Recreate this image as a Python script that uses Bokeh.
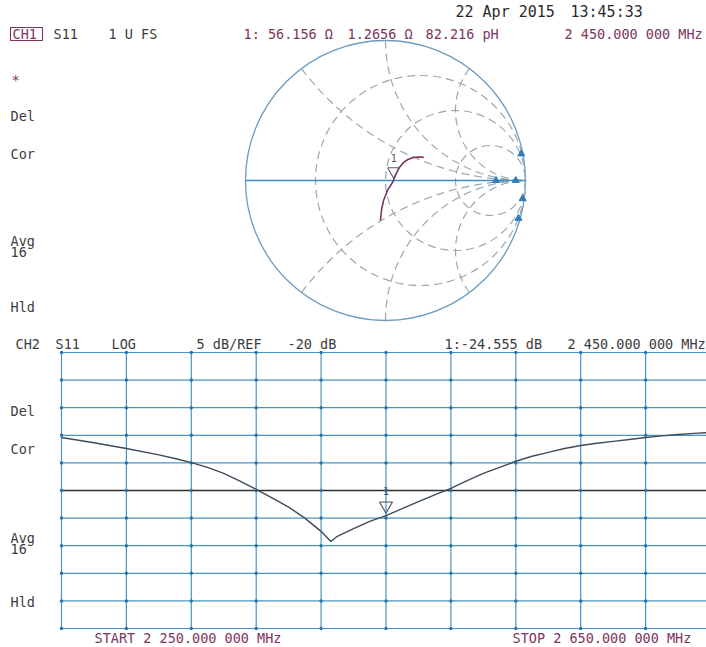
import numpy as np
from bokeh.plotting import figure
from bokeh.models import Range1d
from bokeh.core.properties import value
from bokeh.embed import file_html
from bokeh.resources import INLINE

# ---------------- data ----------------
# CH2: S11 log magnitude (dB) vs frequency (MHz)
freq_mhz = [2250, 2270, 2290, 2310, 2320, 2330, 2340, 2350, 2360, 2370, 2380, 2390, 2400,
            2410, 2416, 2420, 2430, 2440, 2450, 2460, 2470, 2480, 2490, 2500, 2510,
            2520, 2530, 2540, 2550, 2560, 2570, 2580, 2590, 2600, 2610, 2620, 2630,
            2640, 2650]
s11_db = [-10.4, -11.35, -12.4, -13.55, -14.2, -14.95, -15.8, -16.9, -18.3, -19.8, -21.4, -23.0, -25.0,
          -27.4, -29.25, -28.3, -26.9, -25.6, -24.555, -23.3, -22.0, -20.8, -19.6, -18.2, -16.9,
          -15.8, -14.7, -13.8, -13.1, -12.4, -11.85, -11.45, -11.1, -10.75, -10.4, -10.1, -9.85,
          -9.65, -9.5]

# CH1: S11 on Smith chart (reflection coefficient, real / imaginary)
smith_re = [0.274, 0.236, 0.200, 0.160, 0.129, 0.093, 0.071, 0.050, 0.014, -0.014, -0.029, -0.036]
smith_im = [0.166, 0.168, 0.164, 0.150, 0.129, 0.086, 0.036, -0.014, -0.071, -0.143, -0.214, -0.286]

# off-scale trace clusters near the right edge of the Smith chart
edge_re = [0.79, 0.93, 0.97, 0.98, 0.95]
edge_im = [0.0, 0.0, 0.19, -0.13, -0.27]

marker_freq = 2450.0
marker_db = -24.555
marker_r_ohm = 56.156
marker_x_ohm = 1.2656
z0_ohm = 50.0

res_circles = [1 / 3, 1.0, 3.0]
react_arcs = [0.5, 1.0, 2.0, -0.5, -1.0, -2.0]

grid_freq = [2250, 2290, 2330, 2370, 2410, 2450, 2490, 2530, 2570, 2610, 2650]
grid_db = [5, 0, -5, -10, -15, -20, -25, -30, -35, -40, -45]
ref_db = -20

# ---------------- figure ----------------
W, H = 706, 647
XL, XR, YT, YB = 0, 706, 0, 647          # canvas edges in picture pixels
SC, SX, SY = 140.0, 385.0, 180.0          # Smith chart scale and centre
GX0, GX1 = (XL - SX) / SC, (XR - SX) / SC
GY0, GY1 = (SY - YB) / SC, (SY - YT) / SC
FX, FW = 61.0, 64.9                        # log grid left edge, px per division
DY, DH = 352.0, 27.6                       # log grid top edge, px per division
F0, F1 = 2250 + (XL - FX) * 40 / FW, 2250 + (XR - FX) * 40 / FW
D0, D1 = 5 - (YB - DY) * 5 / DH, 5 - (YT - DY) * 5 / DH

p = figure(width=W, height=H, output_backend="svg", toolbar_location=None,
           x_range=Range1d(GX0, GX1), y_range=Range1d(GY0, GY1),
           x_axis_type=None, y_axis_type=None, min_border=0,
           outline_line_color=None, background_fill_color="white",
           border_fill_color="white")
p.grid.visible = False
p.extra_x_ranges = {"f": Range1d(F0, F1), "px": Range1d(XL, XR)}
p.extra_y_ranges = {"db": Range1d(D0, D1), "py": Range1d(YB, YT)}

MONO = value("DejaVu Sans Mono")
DASH_C = "#98a7b1"
BLUE = "#4a93c4"
PURP = "#7c3560"
DARK = "#3c3c40"

# ---- Smith chart ----
p.circle(x=[0], y=[0], radius=1.0, fill_color=None, line_color="#6a9cc0", line_width=1.3)
p.circle(x=[r / (1 + r) for r in res_circles], y=[0] * len(res_circles),
         radius=[1 / (1 + r) for r in res_circles], fill_color=None,
         line_color=DASH_C, line_width=1.2, line_dash="8 5")
rr = np.concatenate([np.linspace(0, 2, 300), np.geomspace(2.01, 5000, 300)])
xs, ys = [], []
for xv in react_arcs:
    z = rr + 1j * xv
    g = (z - 1) / (z + 1)
    xs.append(list(g.real))
    ys.append(list(g.imag))
p.multi_line(xs=xs, ys=ys, line_color=DASH_C, line_width=1.2, line_dash="8 5")
p.segment(x0=[-1], y0=[0], x1=[1], y1=[0], line_color="#3f8cc4", line_width=1.4)
p.scatter(edge_re, edge_im, marker="triangle", size=7, fill_color="#2f7fb8",
          line_color="#2f7fb8")
p.line(smith_re, smith_im, line_color=PURP, line_width=1.6)

zm = complex(marker_r_ohm, marker_x_ohm)
gm = (zm - z0_ohm) / (zm + z0_ohm)
p.scatter([gm.real], [gm.imag + 0.055], marker="inverted_triangle", size=12,
          fill_color=None, line_color="#6a5060", line_width=1.1)
p.text([gm.real], [gm.imag + 0.15], text=["1"], text_font=MONO, text_font_size="10px",
       text_align="center", text_baseline="middle", text_color="#6a5060")

# ---- CH2 log-magnitude grid ----
p.segment(x0=grid_freq, y0=[grid_db[0]] * len(grid_freq), x1=grid_freq,
          y1=[grid_db[-1]] * len(grid_freq), line_color=BLUE, line_width=1.2,
          x_range_name="f", y_range_name="db")
hl = [d for d in grid_db if d != ref_db]
p.segment(x0=[grid_freq[0]] * len(hl), y0=hl, x1=[grid_freq[-1]] * len(hl), y1=hl,
          line_color=BLUE, line_width=1.2, x_range_name="f", y_range_name="db")
p.segment(x0=[grid_freq[0]], y0=[ref_db], x1=[grid_freq[-1]], y1=[ref_db],
          line_color="#2e2e2e", line_width=1.4, x_range_name="f", y_range_name="db")
gx = [f for f in grid_freq for d in grid_db]
gy = [d for f in grid_freq for d in grid_db]
p.scatter(gx, gy, size=3.5, marker="circle", fill_color="#2a74ad", line_color=None,
          x_range_name="f", y_range_name="db")
p.line(freq_mhz, s11_db, line_color="#3e4b5a", line_width=1.4,
       x_range_name="f", y_range_name="db")
p.scatter([marker_freq], [marker_db + 1.8], marker="inverted_triangle", size=13,
          fill_color=None, line_color="#45505c", line_width=1.1,
          x_range_name="f", y_range_name="db")
p.text([marker_freq], [marker_db + 4.4], text=["1"], text_font=MONO,
       text_font_size="10px", text_align="center", text_baseline="middle",
       text_color="#45505c", x_range_name="f", y_range_name="db")

# ---- texts (picture pixel positions) ----
def txt(x, y, s, color=DARK, size="13.5px"):
    p.text([x], [y], text=[s], text_font=MONO, text_font_size=size,
           text_align="left", text_baseline="middle", text_color=color,
           x_range_name="px", y_range_name="py")

txt(455, 11, "22 Apr 2015", "#2a2a2a", "15px")
txt(570, 11, "13:45:33", "#2a2a2a", "15px")
p.quad(left=[10], right=[42], top=[27], bottom=[40], fill_color=None,
       line_color=PURP, line_width=1.1, x_range_name="px", y_range_name="py")
txt(12, 33.5, "CH1", PURP)
txt(53, 33.5, "S11")
txt(108, 33.5, "1 U FS")
txt(243, 33.5, "1: 56.156 Ω", PURP)
txt(347, 33.5, "1.2656 Ω", PURP)
txt(425, 33.5, "82.216 pH", PURP)
txt(564, 33.5, "2 450.000 000 MHz", PURP)

txt(11, 79, "*", "#8a3050", "14px")
txt(10, 115, "Del")
txt(10, 153, "Cor")
txt(10, 240, "Avg")
txt(10, 251, "16")
txt(10, 306, "Hld")

txt(15, 343.5, "CH2")
txt(55, 343.5, "S11")
txt(111, 343.5, "LOG")
txt(196, 343.5, "5 dB/REF")
txt(287, 343.5, "-20 dB")
txt(444, 343.5, "1:-24.555 dB")
txt(567, 343.5, "2 450.000 000 MHz")

txt(10, 410, "Del")
txt(10, 448, "Cor")
txt(10, 537, "Avg")
txt(10, 548, "16")
txt(10, 601, "Hld")

txt(94, 637, "START 2 250.000 000 MHz", PURP)
txt(512, 637, "STOP 2 650.000 000 MHz", PURP)

open("out.html", "w").write(file_html(p, INLINE))
